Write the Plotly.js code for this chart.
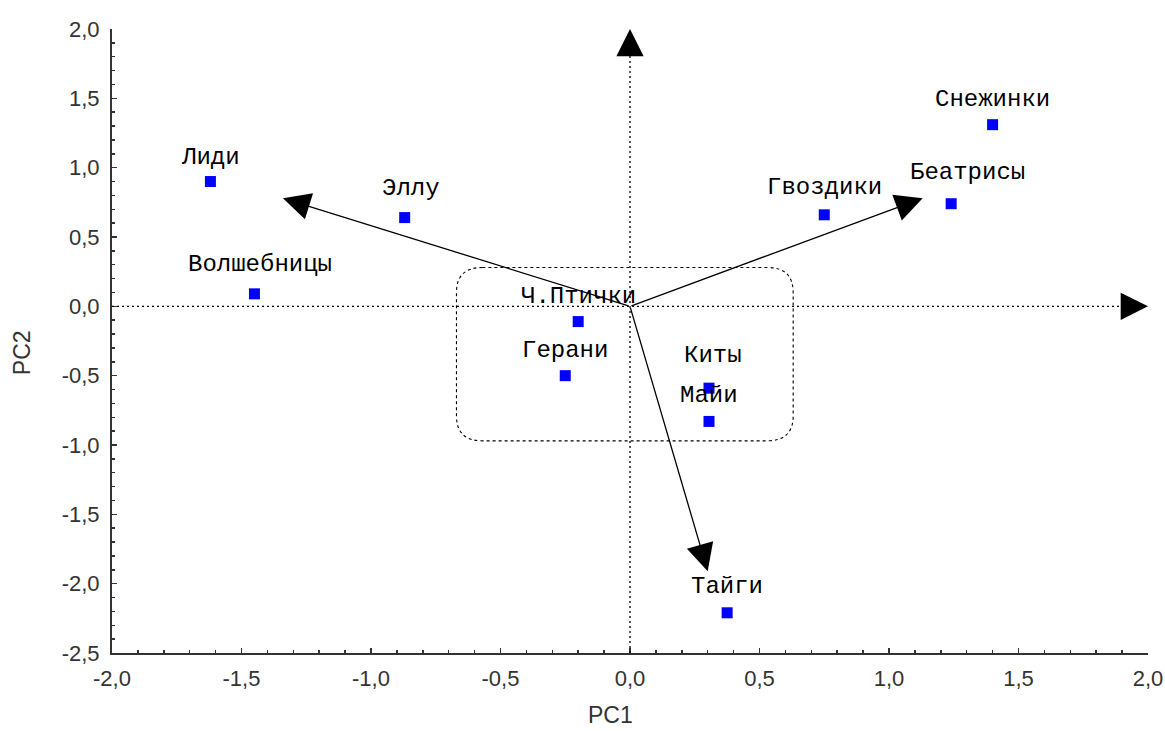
<!DOCTYPE html>
<html>
<head>
<meta charset="utf-8">
<script src="https://cdn.plot.ly/plotly-3.0.1.min.js"></script>
<style>html,body{margin:0;padding:0;background:#fff;}#chart{width:1165px;height:731px;}</style>
</head>
<body>
<div id="chart"></div>
<script>
// Data
const names = ["Лиди","Эллу","Волшебницы","Ч.Птички","Герани","Киты","Майи","Тайги","Гвоздики","Беатрисы","Снежинки"];
const pc1 = [-1.62,-0.87,-1.45,-0.20,-0.25,0.305,0.305,0.375,0.75,1.24,1.40];
const pc2 = [0.90,0.64,0.09,-0.11,-0.50,-0.59,-0.83,-2.21,0.66,0.74,1.31];
// loading vectors (arrows from origin)
const vecX = [-1.34, 1.13, 0.30];
const vecY = [0.78, 0.78, -1.91];
// label offsets (pixels)
const labelDX = [0,6,6,0,0,4,0,0,0,16,0];
const labelDY = [24,29,29,25,25,33,26,26,27,31,25];
const xTicks = [-2.0,-1.5,-1.0,-0.5,0.0,0.5,1.0,1.5,2.0];
const yTicks = [-2.5,-2.0,-1.5,-1.0,-0.5,0.0,0.5,1.0,1.5,2.0];
const fmt = v => v.toFixed(1).replace('.', ',');

const ARROW = {showarrow:true, arrowhead:2, arrowsize:4.2, arrowwidth:1.3, arrowcolor:'#000', text:''};
const annotations = [];
names.forEach((n,i)=>{
  annotations.push({x:pc1[i], y:pc2[i], xref:'x', yref:'y', text:n, showarrow:false,
    xshift:labelDX[i], yshift:labelDY[i],
    font:{family:'Liberation Mono, Courier New, monospace', size:24, color:'#000'}});
});
vecX.forEach((vx,i)=>{
  annotations.push(Object.assign({x:vx, y:vecY[i], ax:0, ay:0, xref:'x', yref:'y', axref:'x', ayref:'y'}, ARROW));
});
// axis arrowheads (short pixel tails hidden under the head)
annotations.push(Object.assign({x:2.0, y:0, ax:-18, ay:0, xref:'x', yref:'y'}, ARROW));
annotations.push(Object.assign({x:0, y:2.0, ax:0, ay:18, xref:'x', yref:'y'}, ARROW));
// axis titles
const titleFont = {family:'Liberation Sans, Arial, sans-serif', size:23, color:'#333'};
annotations.push({xref:'paper', yref:'paper', x:0.4807, y:-0.1, xanchor:'center', yanchor:'middle', text:'PC1', showarrow:false, font:titleFont});
annotations.push({xref:'paper', yref:'paper', x:-0.0869, y:0.482, xanchor:'center', yanchor:'middle', text:'PC2', showarrow:false, textangle:-90, font:titleFont});

// rounded rectangle
const bx0=-0.67, bx1=0.63, by0=-0.97, by1=0.28, rx=0.1, ry=0.18;
const boxPath = `M ${bx0+rx},${by1} L ${bx1-rx},${by1} Q ${bx1},${by1} ${bx1},${by1-ry} L ${bx1},${by0+ry} Q ${bx1},${by0} ${bx1-rx},${by0} L ${bx0+rx},${by0} Q ${bx0},${by0} ${bx0},${by0+ry} L ${bx0},${by1-ry} Q ${bx0},${by1} ${bx0+rx},${by1} Z`;

const shapes = [
  {type:'line', xref:'x', yref:'y', x0:-2, y0:0, x1:1.93, y1:0, line:{color:'#000', width:1.3, dash:'2px,3px'}},
  {type:'line', xref:'x', yref:'y', x0:0, y0:-2.5, x1:0, y1:1.88, line:{color:'#000', width:1.3, dash:'2px,3px'}},
  {type:'path', xref:'x', yref:'y', path:boxPath, line:{color:'#000', width:1.1, dash:'3px,3px'}}
];

const trace = {x:pc1, y:pc2, mode:'markers', type:'scatter',
  marker:{symbol:'square', size:11, color:'#0000ff'}, hoverinfo:'skip'};

const axisCommon = {showgrid:false, zeroline:false, showline:true, linecolor:'#333', linewidth:2,
  ticks:'inside', ticklen:5, tickwidth:1.5, tickcolor:'#333',
  tickfont:{family:'Liberation Sans, Arial, sans-serif', size:22, color:'#333'},
  minor:{dtick:0.1, ticks:'inside', ticklen:3, tickwidth:1.5, tickcolor:'#333'}};

const layout = {
  width:1165, height:731,
  margin:{l:112, r:17, t:29, b:78},
  paper_bgcolor:'#fff', plot_bgcolor:'#fff',
  showlegend:false,
  xaxis:Object.assign({}, axisCommon, {range:[-2,2], tickmode:'array', tickvals:xTicks, ticktext:xTicks.map(fmt), ticklabelstandoff:5}),
  yaxis:Object.assign({}, axisCommon, {range:[-2.5,2], tickmode:'array', tickvals:yTicks, ticktext:yTicks.map(fmt), ticklabelstandoff:6}),
  annotations:annotations,
  shapes:shapes
};
Plotly.newPlot('chart',[trace],layout,{displayModeBar:false, staticPlot:true});
</script>
</body>
</html>
